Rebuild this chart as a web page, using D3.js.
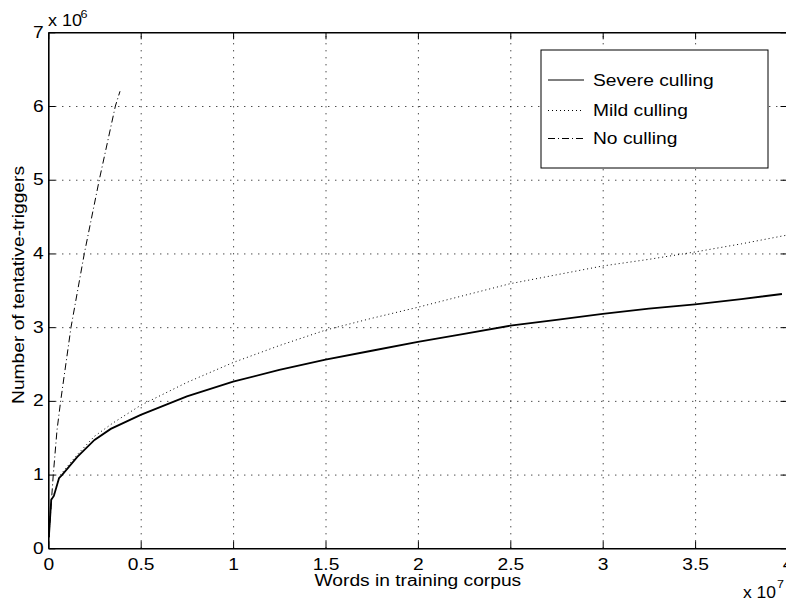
<!DOCTYPE html>
<html>
<head>
<meta charset="utf-8">
<script src="https://cdn.jsdelivr.net/npm/d3@7"></script>
<style>
  html, body { margin: 0; padding: 0; background: #fff; }
  svg { display: block; font-family: "Liberation Sans", Arial, Helvetica, sans-serif; }
  text { fill: #000; }
</style>
</head>
<body>
<svg id="chart" width="786" height="602"></svg>
<script>
// Corpus size in units of 1e7 words, trigger counts in units of 1e6.
const severeX = [0.003, 0.016, 0.03, 0.058, 0.076, 0.157, 0.25, 0.338, 0.5, 0.75, 1.0, 1.25, 1.5, 1.75, 2.0, 2.25, 2.5, 2.75, 3.0, 3.25, 3.5, 3.75, 3.97];
const severeY = [0.15, 0.66, 0.71, 0.95, 1.0, 1.24, 1.47, 1.62, 1.81, 2.06, 2.26, 2.42, 2.56, 2.68, 2.80, 2.91, 3.02, 3.10, 3.18, 3.25, 3.31, 3.38, 3.45];

const mildX = [0.003, 0.016, 0.03, 0.06, 0.16, 0.25, 0.35, 0.5, 0.75, 1.0, 1.25, 1.5, 1.75, 2.0, 2.25, 2.5, 2.75, 3.0, 3.25, 3.5, 3.75, 4.0];
const mildY = [0.15, 0.66, 0.72, 0.98, 1.28, 1.52, 1.70, 1.94, 2.25, 2.52, 2.75, 2.96, 3.12, 3.27, 3.43, 3.59, 3.71, 3.83, 3.92, 4.02, 4.13, 4.25];

const noneX = [0.003, 0.027, 0.047, 0.067, 0.123, 0.195, 0.276, 0.363, 0.388];
const noneY = [0.15, 1.0, 1.6, 2.0, 3.0, 4.0, 5.0, 6.0, 6.2];

const seriesNames = ["Severe culling", "Mild culling", "No culling"];
const xTicks = [0, 0.5, 1, 1.5, 2, 2.5, 3, 3.5, 4];
const yTicks = [0, 1, 2, 3, 4, 5, 6, 7];
const xTickLabels = ["0", "0.5", "1", "1.5", "2", "2.5", "3", "3.5", "4"];
const yTickLabels = ["0", "1", "2", "3", "4", "5", "6", "7"];

const svg = d3.select("#chart");
const m = { left: 48.3, top: 32.3 };
const W = 739.2, H = 516;
const g = svg.append("g").attr("transform", `translate(${m.left},${m.top})`);

const x = d3.scaleLinear().domain([0, 4]).range([0, W]);
const y = d3.scaleLinear().domain([0, 7]).range([H, 0]);

// dotted grid
const gridStyle = sel => {
  sel.select(".domain").remove();
  sel.selectAll("text").remove();
  sel.selectAll("line").attr("stroke", "#000").attr("stroke-width", 1).attr("stroke-dasharray", "1,6");
};
g.append("g").attr("transform", `translate(0,${H})`)
  .call(d3.axisBottom(x).tickValues(xTicks.slice(1, -1)).tickSize(-H).tickFormat(""))
  .call(gridStyle);
g.append("g")
  .call(d3.axisLeft(y).tickValues(yTicks.slice(1, -1)).tickSize(-W).tickFormat(""))
  .call(gridStyle);

// data series
const line = d3.line().x(d => x(d[0])).y(d => y(d[1]));
const series = [
  { name: seriesNames[0], pts: d3.zip(severeX, severeY), dash: null, width: 1.8 },
  { name: seriesNames[1], pts: d3.zip(mildX, mildY), dash: "1,3", width: 1 },
  { name: seriesNames[2], pts: d3.zip(noneX, noneY), dash: "7,3,1,3", width: 1 }
];
g.selectAll("path.series").data(series).join("path")
  .attr("class", "series")
  .attr("d", d => line(d.pts))
  .attr("fill", "none")
  .attr("stroke", "#000")
  .attr("stroke-width", d => d.width)
  .attr("stroke-dasharray", d => d.dash);

// axes with inward ticks on all four sides
const axisStyle = sel => {
  sel.select(".domain").attr("stroke", "#000").attr("stroke-width", 1.6);
  sel.selectAll(".tick line").attr("stroke", "#000").attr("stroke-width", 1);
  sel.selectAll(".tick text").attr("font-size", 16).attr("fill", "#000").classed("wide", true);
};
g.append("g").attr("transform", `translate(0,${H})`)
  .call(d3.axisBottom(x).tickValues(xTicks).tickSize(-7).tickSizeOuter(0).tickPadding(10.5)
    .tickFormat((d, i) => xTickLabels[i]))
  .call(axisStyle);
g.append("g")
  .call(d3.axisTop(x).tickValues(xTicks).tickSize(-7).tickSizeOuter(0).tickFormat(""))
  .call(axisStyle);
g.append("g")
  .call(d3.axisLeft(y).tickValues(yTicks).tickSize(-7).tickSizeOuter(0).tickPadding(4.5)
    .tickFormat((d, i) => yTickLabels[i]))
  .call(axisStyle);
g.append("g").attr("transform", `translate(${W},0)`)
  .call(d3.axisRight(y).tickValues(yTicks).tickSize(-7).tickSizeOuter(0).tickFormat(""))
  .call(axisStyle);

// exponent markers (explicit widths)
svg.append("text").attr("x", 48).attr("y", 26).attr("font-size", 16)
  .attr("textLength", 34).attr("lengthAdjust", "spacingAndGlyphs").text("x 10");
svg.append("text").attr("x", 80.5).attr("y", 17.5).attr("font-size", 11)
  .attr("textLength", 7).attr("lengthAdjust", "spacingAndGlyphs").text("6");
svg.append("text").attr("x", 743).attr("y", 598).attr("font-size", 16)
  .attr("textLength", 33).attr("lengthAdjust", "spacingAndGlyphs").text("x 10");
svg.append("text").attr("x", 777).attr("y", 588).attr("font-size", 11)
  .attr("textLength", 7).attr("lengthAdjust", "spacingAndGlyphs").text("7");

// axis titles
svg.append("text").attr("class", "wide").attr("x", m.left + W / 2).attr("y", 586)
  .attr("text-anchor", "middle").attr("font-size", 16)
  .text("Words in training corpus");
svg.append("text").attr("class", "wide")
  .attr("transform", `translate(24,${285}) rotate(-90)`)
  .attr("text-anchor", "middle").attr("font-size", 16)
  .text("Number of tentative-triggers");

// legend
const lg = svg.append("g").attr("transform", "translate(541,50)");
lg.append("rect").attr("width", 227).attr("height", 118)
  .attr("fill", "#fff").attr("stroke", "#000").attr("stroke-width", 1);
const rowY = [30, 60.5, 88.5];
series.forEach((s, i) => {
  lg.append("line").attr("x1", 7).attr("x2", 43).attr("y1", rowY[i]).attr("y2", rowY[i])
    .attr("stroke", "#000").attr("stroke-width", 1).attr("stroke-dasharray", s.dash);
  lg.append("text").attr("class", "wide").attr("x", 52).attr("y", rowY[i] + 5.7)
    .attr("font-size", 16).text(s.name);
});

// widen glyph runs to the wide sans face used throughout the figure
svg.selectAll("text.wide").each(function () {
  const len = this.getComputedTextLength();
  if (len > 0) {
    d3.select(this).attr("textLength", len * 1.2).attr("lengthAdjust", "spacingAndGlyphs");
  }
});
</script>
</body>
</html>
